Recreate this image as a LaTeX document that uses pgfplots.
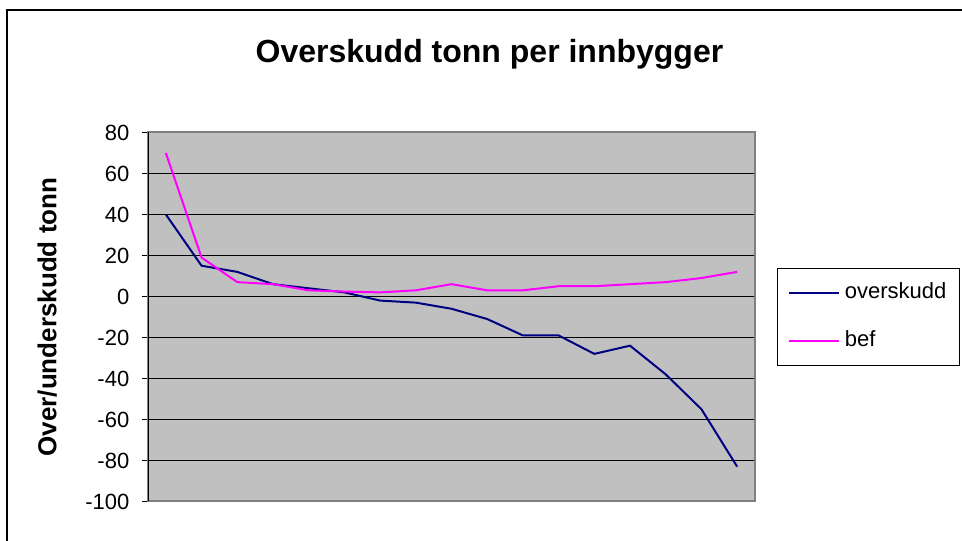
\documentclass[border=0pt]{standalone}
\usepackage{fontspec}
\setmainfont{Liberation Sans}
\usepackage{pgfplots}
\pgfplotsset{compat=1.18}

\definecolor{plotbg}{RGB}{192,192,192}
\definecolor{navyline}{RGB}{0,0,128}
\definecolor{magline}{RGB}{255,0,255}

\begin{document}
\begin{tikzpicture}
% page: 962x540 px at 0.75pt per px
\path[use as bounding box] (0pt,0pt) rectangle (721.5pt,-405pt);
\fill[white] (0pt,0pt) rectangle (721.5pt,-405pt);
\draw[black, line width=1.5pt] (5.25pt,-420pt) -- (5.25pt,-7.5pt) -- (740pt,-7.5pt);

\begin{axis}[
  at={(111pt,-376.1pt)}, anchor=south west,
  scale only axis,
  width=455.25pt, height=276.75pt,
  xmin=0.5, xmax=17.5,
  ymin=-100, ymax=80,
  xtick=\empty,
  ytick={-100,-80,...,80},
  ytick pos=left,
  tick align=outside,
  major tick length=4.5pt,
  ytick style={black, line width=0.75pt},
  ymajorgrids,
  grid style={black, line width=0.75pt},
  axis line style={draw=gray, line width=1.5pt},
  axis background/.style={fill=plotbg},
  /pgf/number format/assume math mode=true,
  yticklabel style={font=\fontsize{16.5}{19}\selectfont, xshift=-6pt},
  legend style={at={(1,0.5)}, anchor=west, xshift=16.5pt,
    draw=black, line width=0.75pt, inner xsep=7.5pt, inner ysep=9pt,
    row sep=17pt, font=\fontsize{16.5}{19}\selectfont,
    nodes={text height=11.5pt, text depth=3.5pt},
    /tikz/every odd column/.append style={column sep=2pt}},
  legend cell align=left,
  legend image code/.code={\draw[line width=1.5pt] (0pt,0pt) -- (37.5pt,0pt);},
  clip=false,
]
\addplot[navyline, line width=1.5pt] coordinates {
  (1,40) (2,15) (3,12) (4,6) (5,4) (6,2) (7,-2) (8,-3) (9,-6)
  (10,-11) (11,-19) (12,-19) (13,-28) (14,-24) (15,-38) (16,-55) (17,-83)
};
\addlegendentry{overskudd\hspace{45pt}}
\addplot[magline, line width=1.5pt] coordinates {
  (1,70) (2,19) (3,7) (4,6) (5,3) (6,2.4) (7,2) (8,3) (9,6)
  (10,3) (11,3) (12,5) (13,5) (14,6) (15,7) (16,9) (17,12)
};
\addlegendentry{bef}
\draw[black, line width=0.75pt] (rel axis cs:0,0) -- (rel axis cs:0,1);
\end{axis}

\node[anchor=base, font=\bfseries\fontsize{24}{28}\selectfont] at (367.1pt,-46.5pt) {Overskudd tonn per innbygger};
\node[rotate=90, font=\bfseries\fontsize{19.5}{23}\selectfont] at (35.5pt,-237.75pt) {Over/underskudd tonn};
\end{tikzpicture}
\end{document}
